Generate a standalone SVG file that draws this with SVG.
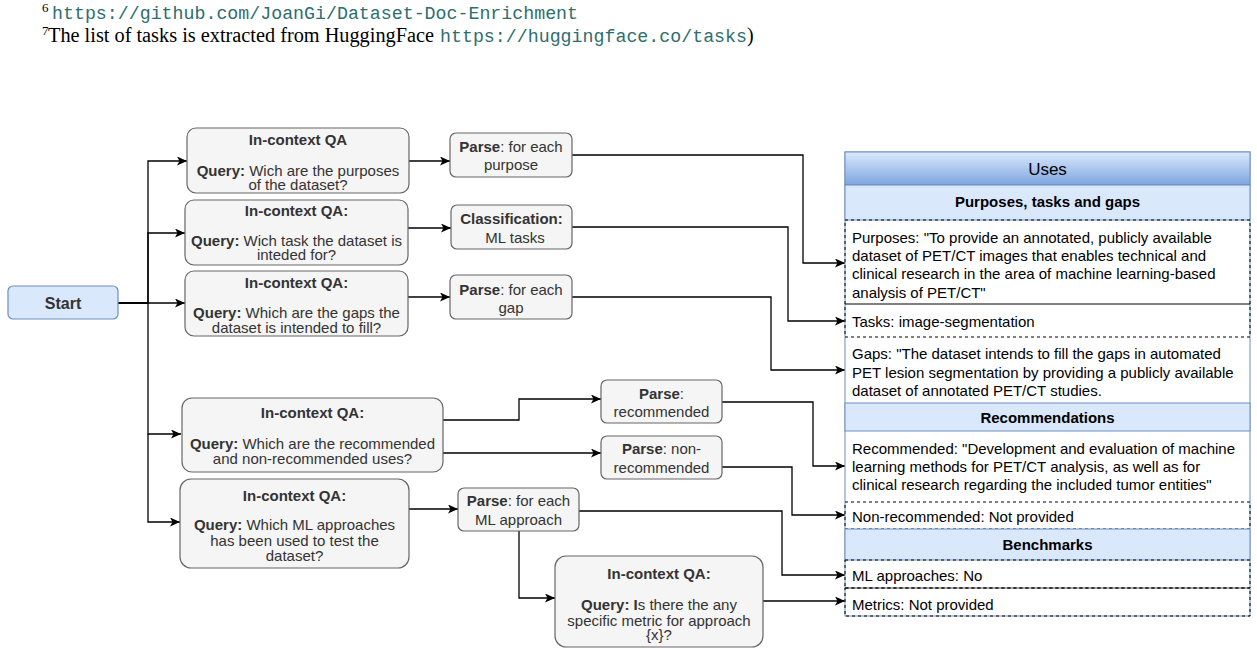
<svg xmlns="http://www.w3.org/2000/svg" width="1257" height="648" viewBox="0 0 1257 648">
<style>
.node{fill:#f5f5f5;stroke:#666666;stroke-width:1.2}
.start{fill:#dae8fc;stroke:#6c8ebf;stroke-width:1.2}
.t{font-family:"Liberation Sans",Arial,Helvetica,sans-serif;font-size:15px;fill:#333333;text-anchor:middle}
.b{font-weight:bold}
.tt{font-family:"Liberation Sans",Arial,Helvetica,sans-serif;font-size:15px;fill:#000000}
.hd{font-family:"Liberation Sans",Arial,Helvetica,sans-serif;font-size:15px;font-weight:bold;fill:#000000;text-anchor:middle}
.sec{fill:#dae8fc;stroke:#6c8ebf;stroke-width:1}
.dash{fill:none;stroke:#000000;stroke-width:1;stroke-dasharray:3 3}
.c{fill:none;stroke:#000000;stroke-width:1.3;marker-end:url(#arr)}
.serif{font-family:"Liberation Serif","Times New Roman",serif;font-size:20px;fill:#000000}
.mono{font-family:"Liberation Mono","Courier New",monospace;font-size:18px;fill:#2e6e6e}
</style>
<defs>
<marker id="arr" markerUnits="userSpaceOnUse" markerWidth="11" markerHeight="9" refX="10" refY="4.5" orient="auto">
<path d="M0,0 L10,4.5 L0,9 L2.5,4.5 Z" fill="#000000"/>
</marker>
<linearGradient id="hdr" x1="0" y1="0" x2="0" y2="1">
<stop offset="0" stop-color="#dae8fc"/>
<stop offset="1" stop-color="#7ea6e0"/>
</linearGradient>
</defs>
<rect x="0" y="0" width="1257" height="648" fill="#ffffff"/>

<g id="footnotes">
<text x="42" y="12" class="serif" style="font-size:13px">6</text>
<text x="52" y="19" class="mono" textLength="526" lengthAdjust="spacingAndGlyphs">https://github.com/JoanGi/Dataset-Doc-Enrichment</text>
<text x="42" y="35" class="serif" style="font-size:13px">7</text>
<text x="48" y="42" class="serif" textLength="386" lengthAdjust="spacingAndGlyphs">The list of tasks is extracted from HuggingFace</text>
<text x="440" y="42" class="mono" textLength="307" lengthAdjust="spacingAndGlyphs">https://huggingface.co/tasks</text>
<text x="747" y="42" class="serif">)</text>
</g>

<g id="connectors">
<path class="c" d="M118,303 H148 V161 H187"/>
<path class="c" d="M118,303 H148 V233 H185"/>
<path class="c" d="M118,303 H185"/>
<path class="c" d="M148,303 V434 H181"/>
<path class="c" d="M148,434 V522 H180"/>
<path class="c" d="M409,161 H450"/>
<path class="c" d="M408,228 H451"/>
<path class="c" d="M408,297 H450"/>
<path class="c" d="M572,155 H803 V263 H845"/>
<path class="c" d="M572,227 H788 V321 H845"/>
<path class="c" d="M572,297 H771 V370 H845"/>
<path class="c" d="M443,420 H519 V399 H601"/>
<path class="c" d="M443,453 H601"/>
<path class="c" d="M722,402 H813 V466 H845"/>
<path class="c" d="M722,467 H792 V515 H845"/>
<path class="c" d="M409,509 H458"/>
<path class="c" d="M579,511 H782 V575 H845"/>
<path class="c" d="M519,531 V598 H555"/>
<path class="c" d="M763,601 H845"/>
</g>

<g id="start">
<rect class="start" x="8" y="286" width="110" height="33" rx="5"/>
<text class="t b" x="63" y="308.5" style="font-size:16px">Start</text>
</g>

<g id="qa-purposes">
<rect class="node" x="187" y="128" width="222" height="65" rx="9"/>
<text class="t b" x="298" y="144.5">In-context QA</text>
<text class="t" x="298" y="176"><tspan class="b">Query:</tspan> Wich are the purposes</text>
<text class="t" x="298" y="190">of the dataset?</text>
</g>

<g id="qa-tasks">
<rect class="node" x="185" y="200" width="223" height="65" rx="9"/>
<text class="t b" x="296.5" y="216">In-context QA:</text>
<text class="t" x="296.5" y="245.5"><tspan class="b">Query:</tspan> Wich task the dataset is</text>
<text class="t" x="296.5" y="259.5">inteded for?</text>
</g>

<g id="qa-gaps">
<rect class="node" x="185" y="271" width="223" height="65" rx="9"/>
<text class="t b" x="296.5" y="288">In-context QA:</text>
<text class="t" x="296.5" y="318"><tspan class="b">Query:</tspan> Which are the gaps the</text>
<text class="t" x="296.5" y="333">dataset is intended to fill?</text>
</g>

<g id="qa-recommended">
<rect class="node" x="182" y="398" width="261" height="74" rx="10"/>
<text class="t b" x="312.5" y="418">In-context QA:</text>
<text class="t" x="312.5" y="448.5"><tspan class="b">Query:</tspan> Which are the recommended</text>
<text class="t" x="312.5" y="464">and non-recommended uses?</text>
</g>

<g id="qa-ml">
<rect class="node" x="180" y="479" width="229" height="89" rx="11"/>
<text class="t b" x="294.5" y="501">In-context QA:</text>
<text class="t" x="294.5" y="530"><tspan class="b">Query:</tspan> Which ML approaches</text>
<text class="t" x="294.5" y="546">has been used to test the</text>
<text class="t" x="294.5" y="561">dataset?</text>
</g>

<g id="qa-metric">
<rect class="node" x="555" y="556" width="208" height="91" rx="11"/>
<text class="t b" x="659" y="578.5">In-context QA:</text>
<text class="t" x="659" y="610"><tspan class="b">Query: I</tspan>s there the any</text>
<text class="t" x="659" y="625.5">specific metric for approach</text>
<text class="t" x="659" y="639.5">{x}?</text>
</g>

<g id="parse-purpose">
<rect class="node" x="450" y="133" width="122" height="44" rx="6"/>
<text class="t" x="511" y="152"><tspan class="b">Parse</tspan>: for each</text>
<text class="t" x="511" y="170">purpose</text>
</g>

<g id="classification">
<rect class="node" x="451" y="205" width="121" height="44" rx="6"/>
<text class="t b" x="511.5" y="224">Classification:</text>
<text class="t" x="515" y="242.5">ML tasks</text>
</g>

<g id="parse-gap">
<rect class="node" x="450" y="275" width="122" height="44" rx="6"/>
<text class="t" x="511" y="294.5"><tspan class="b">Parse</tspan>: for each</text>
<text class="t" x="511" y="312.5">gap</text>
</g>

<g id="parse-recommended">
<rect class="node" x="601" y="380" width="121" height="43" rx="6"/>
<text class="t" x="661.5" y="398.5"><tspan class="b">Parse</tspan>:</text>
<text class="t" x="661.5" y="417">recommended</text>
</g>

<g id="parse-nonrecommended">
<rect class="node" x="601" y="436" width="121" height="43" rx="6"/>
<text class="t" x="661.5" y="454"><tspan class="b">Parse</tspan>: non-</text>
<text class="t" x="661.5" y="472.5">recommended</text>
</g>

<g id="parse-ml">
<rect class="node" x="458" y="488" width="121" height="43" rx="6"/>
<text class="t" x="518.5" y="506"><tspan class="b">Parse</tspan>: for each</text>
<text class="t" x="518.5" y="525">ML approach</text>
</g>

<g id="uses-table">
<rect x="845" y="152" width="405" height="464" fill="#ffffff" stroke="#6c8ebf" stroke-width="1"/>
<rect x="845" y="152" width="405" height="33" fill="url(#hdr)" stroke="#6c8ebf" stroke-width="1"/>
<text x="1047.5" y="174.5" style="font-family:'Liberation Sans',Arial,sans-serif;font-size:17px;fill:#000000;text-anchor:middle">Uses</text>
<rect class="sec" x="845" y="185" width="405" height="35"/>
<text class="hd" x="1047.5" y="207">Purposes, tasks and gaps</text>
<rect class="dash" x="845" y="220" width="405" height="84"/>
<text class="tt" x="852" y="242.5">Purposes: "To provide an annotated, publicly available</text>
<text class="tt" x="852" y="261">dataset of PET/CT images that enables technical and</text>
<text class="tt" x="852" y="279">clinical research in the area of machine learning-based</text>
<text class="tt" x="852" y="297.5">analysis of PET/CT"</text>
<rect class="dash" x="845" y="304" width="405" height="33"/>
<text class="tt" x="852" y="326.5">Tasks: image-segmentation</text>
<text class="tt" x="852" y="359">Gaps: "The dataset intends to fill the gaps in automated</text>
<text class="tt" x="852" y="377.5">PET lesion segmentation by providing a publicly available</text>
<text class="tt" x="852" y="396">dataset of annotated PET/CT studies.</text>
<rect class="sec" x="845" y="403" width="405" height="28"/>
<text class="hd" x="1047.5" y="422.5">Recommendations</text>
<text class="tt" x="852" y="453.5">Recommended: "Development and evaluation of machine</text>
<text class="tt" x="852" y="472">learning methods for PET/CT analysis, as well as for</text>
<text class="tt" x="852" y="490">clinical research regarding the included tumor entities"</text>
<rect class="dash" x="845" y="502" width="405" height="27"/>
<text class="tt" x="852" y="522">Non-recommended: Not provided</text>
<rect class="sec" x="845" y="529" width="405" height="31"/>
<text class="hd" x="1047.5" y="550">Benchmarks</text>
<rect class="dash" x="845" y="560" width="405" height="28"/>
<text class="tt" x="852" y="581">ML approaches: No</text>
<line x1="845" y1="588" x2="1250" y2="588" stroke="#555555" stroke-width="1.2"/>
<rect class="dash" x="845" y="588" width="405" height="28"/>
<text class="tt" x="852" y="610">Metrics: Not provided</text>
</g>
</svg>
